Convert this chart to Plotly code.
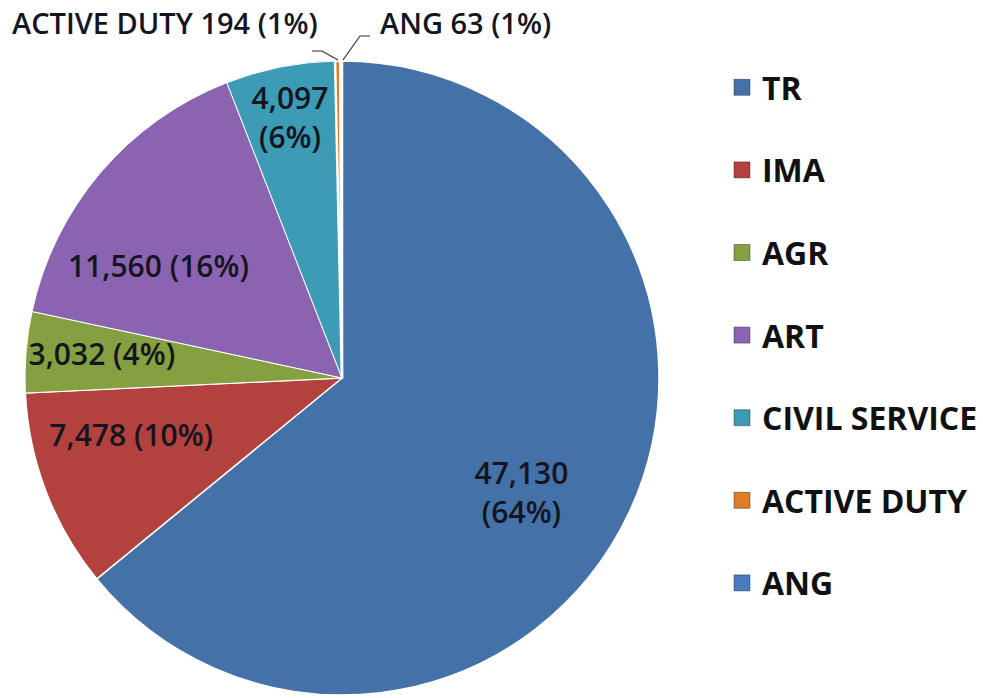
import plotly.graph_objects as go

labels = ["TR", "IMA", "AGR", "ART", "CIVIL SERVICE", "ACTIVE DUTY", "ANG"]
values = [47130, 7478, 3032, 11560, 4097, 194, 63]
pct_labels = ["64%", "10%", "4%", "16%", "6%", "1%", "1%"]
two_line = [True, False, False, False, True, False, False]
colors = ["#4472A8", "#B3413D", "#84A040", "#8A64B0", "#3C9BB5", "#E07B29", "#4A7DBF"]

W, H = 983, 698
def px(x): return x / W
def py(y): return (H - y) / H

def slice_text(i):
    return f"{values[i]:,}" + ("<br>" if two_line[i] else " ") + f"({pct_labels[i]})"

FONT = "Open Sans"
TXT = "#15151f"
CX, CY, R = 342, 378, 317

# where each in-slice label is drawn: a transparent copy of the pie (label layer)
# given as (slice labels, extra rotation in degrees, radius scale, hole)
label_layers = [
    ({"CIVIL SERVICE"}, 0, 0.985, 0),
    ({"TR"}, 7, 1.0, 0.34),
    ({"IMA"}, 5.9, 0.905, 0),
    ({"AGR"}, 1.2, 0.86, 0),
    ({"ART"}, -9, 1.0, 0),
]

fig = go.Figure()
fig.add_trace(go.Pie(
    labels=labels, values=values, textinfo="none",
    sort=False, direction="clockwise", rotation=0,
    marker=dict(colors=colors, line=dict(color="white", width=[1.5, 1.5, 1, 1, 1, 2.5, 2.5])),
    domain=dict(x=[px(CX - R), px(CX + R)], y=[py(CY + R), py(CY - R)]),
    showlegend=False, hoverinfo="label+value+percent",
))
for subset, rot, k, hole in label_layers:
    rr = R * k
    fig.add_trace(go.Pie(
        labels=labels, values=values,
        text=[slice_text(i) if lab in subset else "" for i, lab in enumerate(labels)],
        textinfo="text", texttemplate="%{text}", textposition="inside",
        insidetextorientation="horizontal", hole=hole,
        sort=False, direction="clockwise", rotation=rot,
        marker=dict(colors=["rgba(0,0,0,0)"] * len(labels), line=dict(width=0)),
        textfont=dict(family=FONT, size=30, color=TXT, weight=600),
        domain=dict(x=[px(CX - rr), px(CX + rr)], y=[py(CY + rr), py(CY - rr)]),
        showlegend=False, hoverinfo="skip",
    ))

for lab, c in zip(labels, colors):
    fig.add_trace(go.Scatter(
        x=[None], y=[None], mode="markers", name=lab, legendgroup=lab,
        marker=dict(symbol="square", size=16, color=c, line=dict(color="rgba(0,0,0,0.35)", width=1)),
    ))

annots = []
for i, xpos in ((5, 10), (6, 378)):
    annots.append(dict(
        text=f"{labels[i]} {values[i]} ({pct_labels[i]})",
        x=px(xpos), y=py(22), xref="paper", yref="paper", xanchor="left", yanchor="middle",
        showarrow=False, font=dict(family=FONT, size=29, color=TXT, weight=600),
    ))

shapes = [
    dict(type="path", xref="paper", yref="paper",
         path=f"M {px(312)} {py(51)} L {px(322)} {py(51)} L {px(338)} {py(60)}",
         line=dict(color="#333333", width=1.2)),
    dict(type="path", xref="paper", yref="paper",
         path=f"M {px(343)} {py(60)} L {px(360)} {py(36)} L {px(370)} {py(36)}",
         line=dict(color="#333333", width=1.2)),
]

fig.update_layout(
    width=W, height=H, margin=dict(l=0, r=0, t=0, b=0),
    paper_bgcolor="white", plot_bgcolor="white",
    xaxis=dict(visible=False), yaxis=dict(visible=False),
    uniformtext=dict(minsize=30, mode="show"),
    legend=dict(x=px(722), y=py(60), xanchor="left", yanchor="top",
                font=dict(family=FONT, size=32, color="#111111", weight=700),
                tracegroupgap=38, itemsizing="trace", bgcolor="rgba(0,0,0,0)"),
    annotations=annots, shapes=shapes,
)

fig.write_html("out.html", config={"displayModeBar": False},
               post_script="document.body.style.margin='0';")
